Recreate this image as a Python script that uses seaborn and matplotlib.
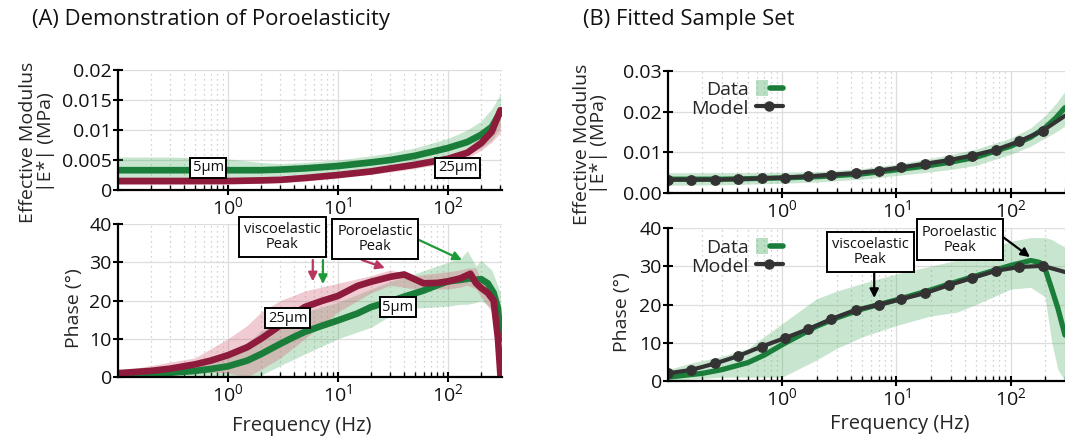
import numpy as np
import pandas as pd
import matplotlib
matplotlib.use("Agg")
import matplotlib.pyplot as plt
import seaborn as sns
from matplotlib.patches import Patch
from matplotlib.lines import Line2D
from matplotlib.legend_handler import HandlerTuple
from matplotlib.ticker import FixedLocator, FixedFormatter, NullFormatter

# ---------------- data: panel A (Demonstration of Poroelasticity) -------------
freq_mod_A = [0.1, 0.3, 1, 2, 3, 5, 10, 20, 30, 50, 100, 150, 200, 250, 300]
mod_5um = [0.0033, 0.0033, 0.0033, 0.0033, 0.0034, 0.0036, 0.0040, 0.0046, 0.0050,
           0.0057, 0.0070, 0.0080, 0.0092, 0.0105, 0.0130]
mod_5um_hi = [0.0055, 0.0055, 0.0052, 0.0046, 0.0044, 0.0046, 0.0050, 0.0057, 0.0062,
              0.0070, 0.0086, 0.0100, 0.0115, 0.0135, 0.0160]
mod_5um_lo = [0.0012, 0.0012, 0.0014, 0.0020, 0.0024, 0.0026, 0.0030, 0.0035, 0.0038,
              0.0044, 0.0055, 0.0062, 0.0070, 0.0082, 0.0105]
mod_25um = [0.0015, 0.0015, 0.0015, 0.0016, 0.0017, 0.0020, 0.0025, 0.0031, 0.0036,
            0.0042, 0.0052, 0.0062, 0.0078, 0.0097, 0.0133]
mod_25um_hi = [0.0019, 0.0019, 0.0019, 0.0020, 0.0021, 0.0024, 0.0029, 0.0035, 0.0040,
               0.0047, 0.0058, 0.0070, 0.0088, 0.0110, 0.0140]
mod_25um_lo = [0.0009, 0.0009, 0.0010, 0.0011, 0.0012, 0.0015, 0.0020, 0.0026, 0.0030,
               0.0036, 0.0045, 0.0053, 0.0066, 0.0080, 0.0095]

freq_ph_A = [0.1, 0.2, 0.3, 0.5, 0.7, 1, 1.5, 2, 3, 4, 5, 7, 10, 15, 20, 30, 40, 60,
             80, 100, 130, 160, 180, 200, 230, 260, 285, 300]
ph_25um = [1.0, 1.6, 2.2, 3.3, 4.3, 5.7, 7.8, 10.0, 13.5, 16.5, 18.3, 19.8, 21.2, 23.8,
           24.9, 26.2, 26.8, 24.5, 24.6, 25.0, 25.8, 27.0, 24.5, 23.3, 22.0, 20.0, 10.0, 0.5]
ph_5um = [0.5, 0.8, 1.1, 1.6, 2.1, 2.8, 4.3, 6.0, 8.7, 10.5, 11.8, 13.3, 14.8, 16.6,
          18.3, 19.8, 21.0, 22.6, 24.0, 25.0, 25.4, 25.8, 25.4, 25.6, 24.5, 22.0, 18.0, 10.0]

freq_band_A = [0.1, 0.5, 1, 1.5, 2, 3, 5, 10, 20, 30, 50, 100, 130, 150, 180, 200, 250, 300]
ph_5um_hi = [1.5, 3.0, 5.5, 9.0, 12.0, 14.5, 17.0, 19.5, 23.0, 25.0, 27.0, 30.0, 31.0,
             33.0, 29.0, 30.5, 28.0, 22.0]
ph_5um_lo = [0.0, 0.0, 0.0, 0.0, 0.5, 3.0, 6.0, 10.0, 13.0, 16.0, 18.0, 18.5, 19.0,
             19.0, 19.5, 20.0, 18.0, 5.0]
ph_25um_hi = [1.5, 5.0, 10.0, 13.5, 17.0, 20.0, 22.5, 24.5, 26.5, 28.0, 26.5, 27.5, 28.0,
              28.5, 28.5, 25.0, 23.0, 2.0]
ph_25um_lo = [0.5, 1.5, 1.0, 0.0, 2.0, 5.0, 10.0, 17.0, 22.0, 24.0, 23.0, 23.0, 23.5,
              24.0, 23.0, 21.0, 17.0, 0.0]

# ---------------- data: panel B (Fitted Sample Set) ---------------------------
freq_model = [0.1, 0.16, 0.26, 0.41, 0.66, 1.05, 1.7, 2.7, 4.4, 7.0, 11, 18, 29, 46,
              74, 119, 191, 300]
model_mod = [0.0033, 0.0033, 0.0033, 0.0034, 0.0036, 0.0038, 0.0041, 0.0045, 0.0049,
             0.0055, 0.0063, 0.0072, 0.0081, 0.0092, 0.0106, 0.0127, 0.0153, 0.0190]
model_ph = [2.0, 2.9, 4.6, 6.5, 9.0, 11.2, 13.6, 16.2, 18.6, 19.9, 21.4, 23.0, 25.1,
            26.9, 28.8, 29.8, 30.1, 28.5]

freq_data_B = [0.1, 0.3, 1, 2, 3, 5, 10, 20, 30, 50, 100, 150, 200, 250, 300]
data_mod = [0.0034, 0.0034, 0.0037, 0.0040, 0.0043, 0.0047, 0.0057, 0.0068, 0.0076,
            0.0088, 0.0115, 0.0137, 0.0160, 0.0185, 0.0210]
data_mod_hi = [0.0050, 0.0050, 0.0051, 0.0053, 0.0056, 0.0060, 0.0071, 0.0085, 0.0095,
               0.0108, 0.0135, 0.0160, 0.0190, 0.0220, 0.0250]
data_mod_lo = [0.0019, 0.0020, 0.0024, 0.0027, 0.0030, 0.0034, 0.0043, 0.0052, 0.0058,
               0.0068, 0.0095, 0.0115, 0.0135, 0.0150, 0.0165]

freq_ph_B = [0.1, 0.2, 0.3, 0.5, 0.7, 1, 1.5, 2, 3, 5, 7, 10, 20, 30, 50, 100, 150,
             180, 200, 230, 260, 300]
data_ph = [1.0, 2.0, 3.0, 4.8, 6.8, 9.5, 12.3, 14.3, 16.5, 18.8, 20.0, 21.2, 23.8,
           25.5, 27.5, 30.2, 31.5, 31.0, 29.5, 24.0, 19.0, 12.0]
freq_band_B = [0.1, 0.16, 0.3, 0.5, 1, 2, 3, 5, 10, 20, 34, 50, 100, 150, 200, 230, 260, 300]
data_ph_hi = [3.0, 4.7, 6.5, 8.5, 15.0, 21.5, 23.5, 25.5, 28.0, 30.0, 31.6, 33.5, 36.5,
              37.5, 37.5, 37.0, 36.0, 35.0]
data_ph_lo = [0.0, 0.5, 1.0, 1.0, 1.0, 5.5, 8.5, 11.5, 14.5, 17.0, 18.0, 20.0, 24.0,
              24.5, 22.0, 10.0, 3.0, 0.0]

# ---------------- style ------------------------------------------------------
sns.set_theme(style="white")
plt.rcParams['font.family'] = ['Open Sans', 'DejaVu Sans']
plt.rcParams['mathtext.fontset'] = 'custom'
plt.rcParams['mathtext.rm'] = 'Open Sans'
plt.rcParams['mathtext.it'] = 'Open Sans'
plt.rcParams['mathtext.default'] = 'regular'

GREEN = '#1b7d3a'
GREEN_FILL = '#3ca653'
RED = '#8e1a3c'
RED_FILL = '#d46a80'
RED_ARROW = '#b8365f'
GREEN_ARROW = '#1f9a38'
DARK = '#333333'

fig = plt.figure(figsize=(10.65, 4.41), dpi=100)
W, H = 1065.0, 441.0


def add_ax(x0, x1, ytop, ybot):
    return fig.add_axes([x0 / W, 1 - ybot / H, (x1 - x0) / W, (ybot - ytop) / H])


axA1 = add_ax(118, 502, 70, 190)
axA2 = add_ax(118, 502, 224, 377)
axB1 = add_ax(668, 1065, 71, 193)
axB2 = add_ax(668, 1065, 228, 381)


def style(ax, ylim, yticks, ylabels, xmax):
    ax.set_xscale('log')
    ax.set_xlim(0.1, xmax)
    ax.set_ylim(*ylim)
    ax.yaxis.set_major_locator(FixedLocator(yticks))
    ax.yaxis.set_major_formatter(FixedFormatter(ylabels))
    ax.xaxis.set_major_locator(FixedLocator([1, 10, 100]))
    ax.xaxis.set_major_formatter(FixedFormatter([r'$10^{0}$', r'$10^{1}$', r'$10^{2}$']))
    minors = [m * 10.0 ** e for e in (-1, 0, 1, 2) for m in range(2, 10)]
    ax.xaxis.set_minor_locator(FixedLocator(minors))
    ax.xaxis.set_minor_formatter(NullFormatter())
    ax.grid(True, which='major', color='#dddddd', lw=0.9, ls='-')
    ax.grid(True, which='minor', axis='x', color='#c4c4c4', lw=0.9, ls=(0, (1, 3)))
    for s in ['top', 'right']:
        ax.spines[s].set_visible(False)
    for s in ['left', 'bottom']:
        ax.spines[s].set_color('black')
        ax.spines[s].set_linewidth(1.6)
    ax.tick_params(axis='both', which='major', direction='inout', length=7, width=1.5,
                   color='black', labelsize=14, bottom=True, left=True, pad=1,
                   labelcolor='#111111')
    ax.tick_params(axis='x', which='minor', direction='in', length=3.5, width=1.0,
                   bottom=True, color='black')
    ax.set_axisbelow(True)
    ax.set_xlabel('')
    ax.set_ylabel('')


def box(ax, x, y, s, fs=10.5, pad=0.35):
    ax.text(x, y, s, ha='center', va='center', fontsize=fs, linespacing=1.05,
            color='#111111', zorder=10,
            bbox=dict(boxstyle=f'square,pad={pad}', fc='white', ec='black', lw=1.4))


def arrow(ax, tail, tip, color):
    ax.annotate('', xy=tip, xytext=tail, zorder=9,
                arrowprops=dict(arrowstyle='-|>', color=color, lw=1.6,
                                mutation_scale=13, shrinkA=0, shrinkB=0))


# ---------------- panel A top: modulus ---------------------------------------
axA1.fill_between(freq_mod_A, mod_5um_lo, mod_5um_hi, color=GREEN_FILL, alpha=0.28, lw=0)
axA1.fill_between(freq_mod_A, mod_25um_lo, mod_25um_hi, color=RED_FILL, alpha=0.35, lw=0)
sns.lineplot(x=freq_mod_A, y=mod_5um, ax=axA1, color=GREEN, lw=4.8)
sns.lineplot(x=freq_mod_A, y=mod_25um, ax=axA1, color=RED, lw=4.8)
style(axA1, (0, 0.02), [0, 0.005, 0.01, 0.015, 0.02],
      ['0', '0.005', '0.01', '0.015', '0.02'], 310)
box(axA1, 0.66, 0.0037, '5µm', fs=10.5, pad=0.18)
box(axA1, 123, 0.0037, '25µm', fs=10.5, pad=0.18)
axA1.set_ylabel('Effective Modulus\n|E*| (MPa)', fontsize=14, linespacing=0.95)
axA1.yaxis.set_label_coords(-0.165, 0.40)

# ---------------- panel A bottom: phase --------------------------------------
axA2.fill_between(freq_band_A, ph_5um_lo, ph_5um_hi, color=GREEN_FILL, alpha=0.28, lw=0)
axA2.fill_between(freq_band_A, ph_25um_lo, ph_25um_hi, color=RED_FILL, alpha=0.35, lw=0)
sns.lineplot(x=freq_ph_A, y=ph_5um, ax=axA2, color=GREEN, lw=4.8)
sns.lineplot(x=freq_ph_A, y=ph_25um, ax=axA2, color=RED, lw=4.8)
style(axA2, (0, 40), [0, 10, 20, 30, 40], ['0', '10', '20', '30', '40'], 310)
box(axA2, 3.5, 15.4, '25µm', fs=10.5, pad=0.18)
box(axA2, 35, 18.3, '5µm', fs=10.5, pad=0.18)
box(axA2, 3.1, 36.6, 'viscoelastic\nPeak')
box(axA2, 21.7, 36.1, 'Poroelastic\nPeak')
arrow(axA2, (5.9, 30.6), (5.9, 25.0), RED_ARROW)
arrow(axA2, (7.3, 30.6), (7.3, 24.3), GREEN_ARROW)
arrow(axA2, (16.5, 30.6), (26.7, 28.5), RED_ARROW)
arrow(axA2, (52, 36.1), (134, 30.6), GREEN_ARROW)
axA2.set_ylabel('Phase (°)', fontsize=14)
axA2.yaxis.set_label_coords(-0.09, 0.45)
axA2.set_xlabel('Frequency (Hz)', fontsize=14.5)
axA2.xaxis.set_label_coords(0.479, -0.255)

# ---------------- panel B top: modulus ---------------------------------------
axB1.fill_between(freq_data_B, data_mod_lo, data_mod_hi, color=GREEN_FILL, alpha=0.28, lw=0)
sns.lineplot(x=freq_data_B, y=data_mod, ax=axB1, color=GREEN, lw=3.8)
sns.lineplot(x=freq_model, y=model_mod, ax=axB1, color=DARK, lw=3.0, marker='o', ms=7,
             mec=DARK, mfc=DARK, markevery=list(range(len(freq_model) - 1)))
style(axB1, (0, 0.03), [0, 0.01, 0.02, 0.03], ['0.00', '0.01', '0.02', '0.03'], 300)
axB1.set_ylabel('Effective Modulus\n|E*| (MPa)', fontsize=14, linespacing=0.95)
axB1.yaxis.set_label_coords(-0.15, 0.40)

# ---------------- panel B bottom: phase --------------------------------------
axB2.fill_between(freq_band_B, data_ph_lo, data_ph_hi, color=GREEN_FILL, alpha=0.28, lw=0)
sns.lineplot(x=freq_ph_B, y=data_ph, ax=axB2, color=GREEN, lw=3.8)
sns.lineplot(x=freq_model, y=model_ph, ax=axB2, color=DARK, lw=3.0, marker='o', ms=7,
             mec=DARK, mfc=DARK, markevery=list(range(len(freq_model) - 1)))
style(axB2, (0, 40), [0, 10, 20, 30, 40], ['0', '10', '20', '30', '40'], 300)
box(axB2, 5.9, 33.7, 'viscoelastic\nPeak')
box(axB2, 36, 36.9, 'Poroelastic\nPeak')
arrow(axB2, (6.4, 28.2), (6.4, 21.7), 'black')
arrow(axB2, (81, 38.2), (148, 32.4), 'black')
axB2.set_ylabel('Phase (°)', fontsize=14)
axB2.yaxis.set_label_coords(-0.093, 0.45)
axB2.set_xlabel('Frequency (Hz)', fontsize=14.5)
axB2.xaxis.set_label_coords(0.584, -0.215)

# legends
for ax, ytop in ((axB1, 1.02), (axB2, 1.01)):
    h_data = (Patch(fc=GREEN_FILL, alpha=0.35, ec='none'),
              Line2D([], [], color=GREEN, lw=4))
    h_model = Line2D([], [], color=DARK, lw=3.0, marker='o', ms=6.5)
    ax.legend([h_data, h_model], ['Data', 'Model'], loc='upper left',
              bbox_to_anchor=(0.03, ytop), frameon=False, markerfirst=False,
              handlelength=1.4, handleheight=0.9, fontsize=14, labelspacing=0.0,
              borderpad=0.1, handletextpad=0.35,
              handler_map={tuple: HandlerTuple(ndivide=None)})

# titles
fig.text(32 / W, 1 - 19 / H, '(A) Demonstration of Poroelasticity', fontsize=15.8,
         ha='left', va='center', color='#111111')
fig.text(583 / W, 1 - 19 / H, '(B) Fitted Sample Set', fontsize=15.8,
         ha='left', va='center', color='#111111')

fig.savefig('out.png', dpi=100)
